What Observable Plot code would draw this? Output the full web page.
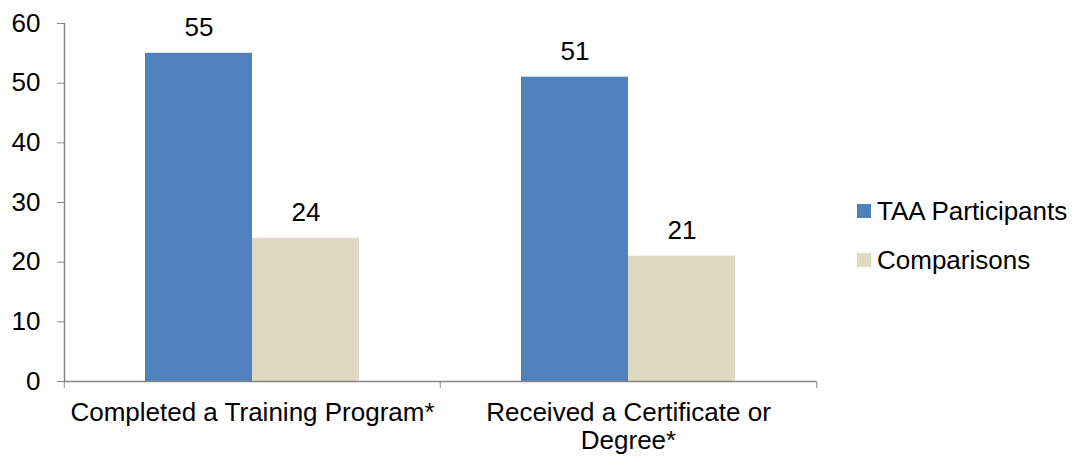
<!DOCTYPE html>
<html><head><meta charset="utf-8">
<script src="https://cdn.jsdelivr.net/npm/d3@7"></script>
<script src="https://cdn.jsdelivr.net/npm/@observablehq/plot@0.6"></script>
<style>
body{margin:0;background:#fff;font-family:"Liberation Sans",Arial,sans-serif}
#wrap{position:relative;width:1080px;height:457px;overflow:hidden}
.lg{position:absolute;left:857px;display:flex;align-items:center;height:20px;font-size:26px;color:#000;white-space:nowrap}
.lg span.sw{display:inline-block;width:14px;height:14px;margin-right:6px}
</style></head><body><div id="wrap"></div>
<script>
const categories = ["Completed a Training Program*", "Received a Certificate or Degree*"];
const categoryLabels = ["Completed a Training Program*", "Received a Certificate or\nDegree*"];
const series = ["TAA Participants", "Comparisons"];
const taaValues = [55, 51];
const comparisonValues = [24, 21];
const colors = ["#4F81BD", "#DDD9C3"];
const yTicks = [0, 10, 20, 30, 40, 50, 60];

const rows = [];
categories.forEach((c, i) => {
  rows.push({category: c, series: series[0], value: taaValues[i]});
  rows.push({category: c, series: series[1], value: comparisonValues[i]});
});

const W = 1080, H = 457, mL = 63, mR = 264, mT = 23, mB = 76;
const facetW = (W - mL - mR) / categories.length;
const gray = "#868686";
const font = "Liberation Sans, Arial, sans-serif";
const fs = 26;

const chart = Plot.plot({
  width: W, height: H,
  marginLeft: mL, marginRight: mR, marginTop: mT, marginBottom: mB,
  style: {fontFamily: font, fontSize: fs + "px", color: "#000", background: "#fff"},
  fx: {domain: categories, padding: 0, label: null},
  x: {domain: series, paddingInner: 0, paddingOuter: 0.751, axis: null},
  y: {domain: [0, 60], label: null},
  color: {domain: series, range: colors},
  marks: [
    Plot.barY(rows, {fx: "category", x: "series", y: "value", fill: "series"}),
    Plot.text(rows, {fx: "category", x: "series", y: "value", text: d => String(d.value),
      lineAnchor: "bottom", dy: -17, fontSize: fs, fill: "#000"}),
    Plot.ruleY([0], {stroke: gray, strokeWidth: 1.5}),
    Plot.frame({anchor: "left", facetAnchor: "left", stroke: gray, strokeWidth: 1.5}),
    Plot.axisY({ticks: yTicks, tickSize: 7, tickPadding: 17, stroke: gray, fill: "#000",
      fontSize: fs, label: null, tickFormat: d => String(d)}),
    Plot.axisFx({anchor: "bottom", tickSize: 7, dx: -facetW / 2, stroke: gray, tickFormat: () => "", label: null}),
    Plot.axisFx({anchor: "bottom", ticks: [categories[categories.length - 1]], tickSize: 7, dx: facetW / 2, stroke: gray,
      tickFormat: () => "", label: null}),
    Plot.axisFx({anchor: "bottom", tickSize: 0, tickPadding: 19, fontSize: fs, lineHeight: 1.1, fill: "#000", label: null,
      tickFormat: d => categoryLabels[categories.indexOf(d)]})
  ]
});

const wrap = document.getElementById("wrap");
wrap.appendChild(chart);
const legendTops = [201, 250];
series.forEach((s, i) => {
  const el = document.createElement("div");
  el.className = "lg";
  el.style.top = legendTops[i] + "px";
  el.innerHTML = `<span class="sw" style="background:${colors[i]}"></span><span>${s}</span>`;
  wrap.appendChild(el);
});
</script>
</body></html>
